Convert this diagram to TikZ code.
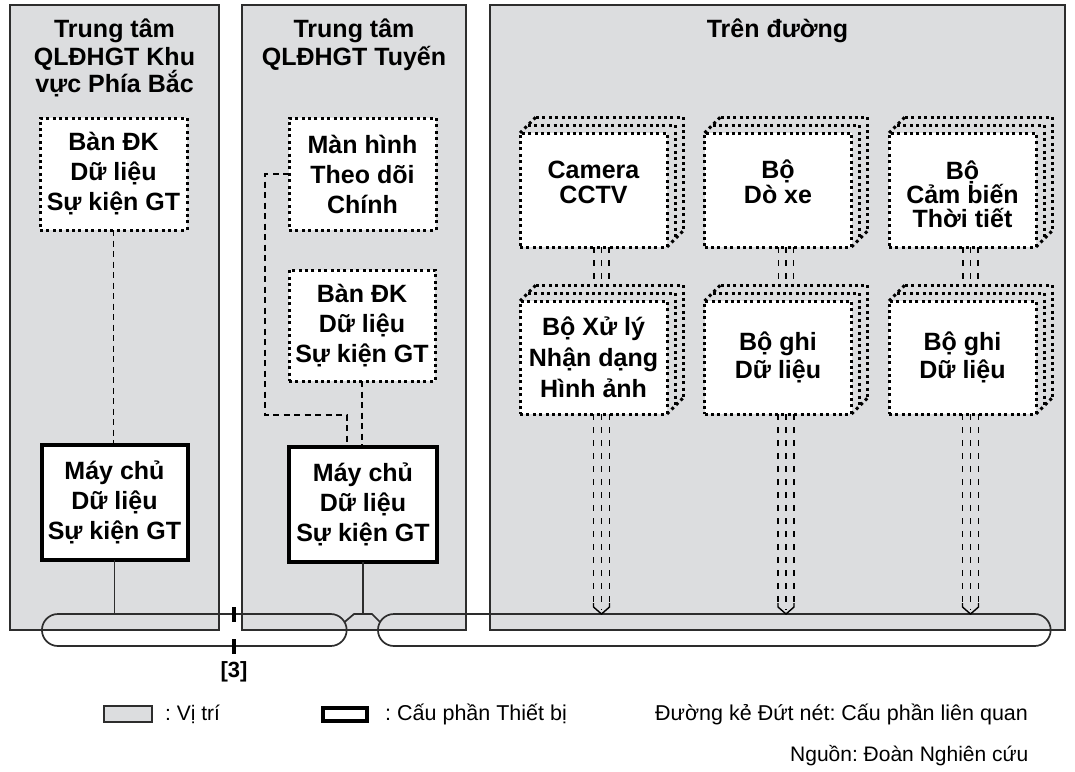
\documentclass[tikz,border=0pt]{standalone}
\usepackage{fontspec}
\setmainfont{Liberation Sans}
\usetikzlibrary{calc}
\frenchspacing
\definecolor{panelgray}{RGB}{220,221,223}
\definecolor{edgegray}{RGB}{45,45,45}
\newcommand{\upshift}{\rule[-16pt]{0pt}{16pt}}
\newcommand{\downshift}{\rule{0pt}{27pt}}
\newcommand{\stackdeco}[1]{%
  \draw[dotline] ($(#1.north west)+(8,-8)$) -| ($(#1.south east)+(8,-8)$);
  \draw[dotline] ($(#1.north west)+(16,-16)$) -| ($(#1.south east)+(16,-16)$);
  \draw[dotline] (#1.north west) -- ($(#1.north west)+(16,-16)$);
  \draw[dotline] (#1.south east) -- ($(#1.south east)+(16,-16)$);
}
\newcommand{\tripconn}[2]{%
  \foreach \dx in {0.5,8,15.5} \draw[tripdash] ($(#1.south)+(\dx,0)$) -- ($(#2.north)+(\dx,-16)$);
}
\newcommand{\busarrow}[2]{%
  \coordinate (ta) at ($(#1.south)+(8,0)$);
  \coordinate (tb) at (ta |- #2.north);
  \draw[tripdash] ($(ta)+(-8,0)$) -- ($(tb)+(-8,-11)$);
  \draw[tripdash] (ta) -- ($(tb)+(0,-4)$);
  \draw[tripdash] ($(ta)+(8,0)$) -- ($(tb)+(8,-11)$);
  \draw[thinsolid] ($(tb)+(-8,-11)$) -- ($(tb)+(-8,-7)$) -- (tb) -- ($(tb)+(8,-7)$) -- ($(tb)+(8,-11)$);
}
\begin{document}
\frenchspacing
\begin{tikzpicture}[x=1pt,y=-1pt,
  panelbox/.style={draw=edgegray, line width=1.6pt, fill=panelgray, inner sep=0pt, outer sep=0pt},
  dotline/.style={draw=black, line width=3pt, dash pattern=on 3pt off 3.4pt},
  lh/.style={font=\bfseries\fontsize{25}{#1}\selectfont},
  dotbox/.style={dotline, fill=white, inner sep=0pt, outer sep=0pt, align=center, minimum width=147pt, minimum height=113pt},
  server/.style={draw=black, line width=4pt, fill=white, inner sep=0pt, outer sep=0pt, align=center, minimum width=146pt, minimum height=115pt, lh=30},
  dashline/.style={draw=black, line width=1.3pt, dash pattern=on 6pt off 4.5pt},
  tripdash/.style={draw=black, line width=1.4pt, dash pattern=on 6pt off 7pt},
  thinsolid/.style={draw=black, line width=1.4pt},
  busline/.style={draw=edgegray, line width=1.7pt},
  bus/.style={busline, inner sep=0pt, outer sep=0pt, minimum height=32pt, rounded corners=16pt},
  title/.style={align=center, inner sep=0pt, font=\bfseries\fontsize{25}{27.5}\selectfont},
  legtext/.style={anchor=west, inner sep=0pt, font=\fontsize{#1}{#1}\selectfont\frenchspacing}
]
\useasboundingbox (0,0) rectangle (1075,771);
\fill[white] (0,0) rectangle (1075,771);

% panels
\node[panelbox, minimum width=209pt, minimum height=625pt] (p1) at (114.5,317.5) {};
\node[panelbox, minimum width=224pt, minimum height=625pt] (p2) at (354,317.5) {};
\node[panelbox, minimum width=575pt, minimum height=625pt] (p3) at (777.5,317.5) {};
\node[title] (t1) at (114.5,58) {Trung tâm\\QLĐHGT Khu\\vực Phía Bắc};
\node[title] (t2) at (354,44.7) {Trung tâm\\QLĐHGT Tuyến};
\node[title, anchor=base] (t3) at (777.5,37) {Trên đường};

% centre boxes
\node[dotbox, lh=30, minimum height=112pt] (bk1) at (113.5,174) {Bàn ĐK\\Dữ liệu\\Sự kiện GT};
\node[dotbox, lh=30, minimum height=112pt] (mh) at (362.5,174) {Màn hình\\Theo dõi\\Chính};
\node[dotbox, lh=30, minimum width=146pt, minimum height=111pt] (bk2) at (362,325.5) {Bàn ĐK\\Dữ liệu\\Sự kiện GT};
\node[server] (srv1) at (114.5,502.5) {Máy chủ\\Dữ liệu\\Sự kiện GT};
\node[server, minimum width=148pt] (srv2) at (363,504) {Máy chủ\\Dữ liệu\\Sự kiện GT};

% roadside stacked boxes
\node[dotbox, lh=25, minimum height=114pt] (cam) at (593.5,190) {Camera\\CCTV\upshift};
\node[dotbox, lh=25, minimum height=114pt] (det) at (778,190) {Bộ\\Dò xe\upshift};
\node[dotbox, lh=23.5, minimum height=114pt] (wx) at (962.5,190) {\downshift Bộ\\Cảm biến\\Thời tiết};
\node[dotbox, lh=31] (proc) at (593.5,357.5) {Bộ Xử lý\\Nhận dạng\\Hình ảnh};
\node[dotbox, lh=28] (rec1) at (778,357.5) {Bộ ghi\\Dữ liệu};
\node[dotbox, lh=28] (rec2) at (962.5,357.5) {Bộ ghi\\Dữ liệu};
\stackdeco{cam}\stackdeco{det}\stackdeco{wx}
\stackdeco{proc}\stackdeco{rec1}\stackdeco{rec2}
\tripconn{cam}{proc}\tripconn{det}{rec1}\tripconn{wx}{rec2}

% buses
\node[bus, minimum width=304.7pt] (busL) at (194.3,630) {};
\node[bus, minimum width=672.7pt] (busR) at (714.3,630) {};

% connectors
\draw[dashline] (bk1.south) -- (bk1.south |- srv1.north);
\draw[dashline] (bk2.south) -- (bk2.south |- srv2.north);
\coordinate (k) at (265,415);
\draw[dashline] (mh.west) -| (k) -| ($(srv2.north)+(-16,0)$);
\draw[busline] (srv1.south) -- (srv1.south |- busL.north);
\coordinate (j) at (srv2.south |- busR.north);
\draw[busline] (srv2.south) -- (j);
\draw[busline] ($(j)+(-18.4,8)$) -- ($(j)+(-9,0)$) -- ($(j)+(9,0)$) -- ($(j)+(17,8)$);
\busarrow{proc}{busR}
\busarrow{rec1}{busR}
\busarrow{rec2}{busR}

% [3] marker
\coordinate (m3a) at (234,607);
\coordinate (m3b) at (234,639);
\draw[line width=3.5pt] (m3a) -- ++(0,15);
\draw[line width=3.5pt] (m3b) -- ++(0,15);
\node[font=\bfseries\fontsize{22}{22}\selectfont, anchor=base, inner sep=0pt] (l3) at (234,677) {[3]};

% legend
\node[panelbox, minimum width=48pt, minimum height=16pt] (lg1) at (128,714) {};
\node[legtext=21] (lt1) at (165,714) {: Vị trí};
\node[draw=black, line width=4pt, fill=white, minimum width=44pt, minimum height=13pt, inner sep=0pt] (lg2) at (345,714) {};
\node[legtext=21.5] (lt2) at (385,714) {: Cấu phần Thiết bị};
\node[legtext=21.5] (lt3) at (655,714) {Đường kẻ Đứt nét: Cấu phần liên quan};
\node[legtext=21] (lt4) at (790,756) {Nguồn: Đoàn Nghiên cứu};
\end{tikzpicture}
\end{document}
